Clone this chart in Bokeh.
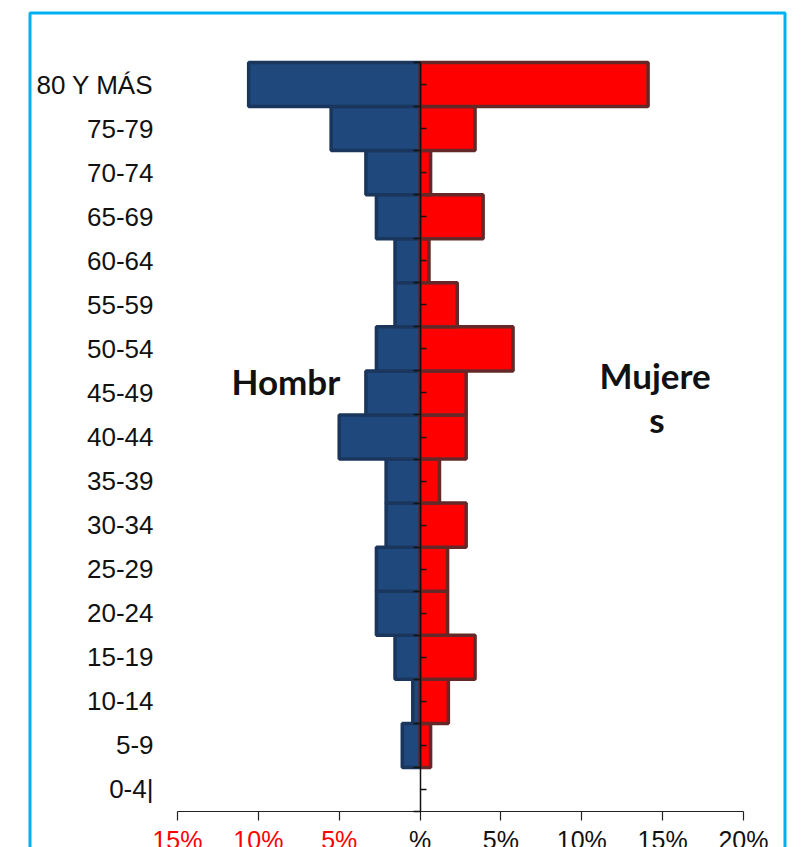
from bokeh.plotting import figure
from bokeh.models import LinearAxis, FixedTicker, Range1d, Label, BoxAnnotation
from bokeh.embed import file_html
from bokeh.resources import INLINE

# ---- data (bottom to top) ----
age_groups = ["0-4", "5-9", "10-14", "15-19", "20-24", "25-29", "30-34", "35-39",
              "40-44", "45-49", "50-54", "55-59", "60-64", "65-69", "70-74", "75-79",
              "80 Y MÁS"]
# the original shows the lowest category label as "0-4|"
age_tick_labels = ["0-4|"] + age_groups[1:]
hombres = [0.0, 1.1, 0.45, 1.55, 2.7, 2.7, 2.1, 2.1, 5.0, 3.35, 2.7, 1.55, 1.55,
           2.7, 3.35, 5.5, 10.6]
mujeres = [0.0, 0.65, 1.75, 3.4, 1.7, 1.7, 2.85, 1.2, 2.85, 2.85, 5.75, 2.3, 0.55,
           3.9, 0.65, 3.4, 14.1]
x_ticks = [-15, -10, -5, 0, 5, 10, 15, 20]
neg_tick_labels = {-15: "15%", -10: "10%", -5: "5%"}
pos_tick_labels = {0: "%", 5: "5%", 10: "10%", 15: "15%", 20: "20%"}
label_h = "Hombr"
label_m1 = "Mujere"
label_m2 = "s"

n = len(age_groups)
ypos = list(range(n))
X_MIN, X_MAX = -15, 20
Y_MIN, Y_MAX = -0.5, n - 0.5

# ---- layout (pixels) ----
W, H = 800, 847
PX_L, PX_R = 177, 743      # x = -15 .. 20
PX_T, PX_B = 62, 811       # y = 16.5 .. -0.5
sx = (X_MAX - X_MIN) / (PX_R - PX_L)
sy = (Y_MAX - Y_MIN) / (PX_B - PX_T)


def dx(px):
    return X_MIN + (px - PX_L) * sx


def dy(py):
    return Y_MAX - (py - PX_T) * sy


p = figure(width=W, height=H, output_backend="svg", toolbar_location=None,
           x_range=Range1d(dx(0), dx(W)), y_range=Range1d(dy(H), dy(0)),
           x_axis_location=None, y_axis_location=None,
           min_border=0)
p.grid.visible = False
p.outline_line_color = None
p.background_fill_color = "white"
p.border_fill_color = "white"

# bars (only non-empty ones get drawn)
h_y = [y for y, v in zip(ypos, hombres) if v > 0]
h_v = [-v for v in hombres if v > 0]
m_y = [y for y, v in zip(ypos, mujeres) if v > 0]
m_v = [v for v in mujeres if v > 0]
p.hbar(y=h_y, left=h_v, right=0, height=1.0,
       fill_color="#1F497D", line_color="#1B365C", line_width=3.5)
p.hbar(y=m_y, left=0, right=m_v, height=1.0,
       fill_color="#FF0000", line_color="#652828", line_width=3.5)

# category labels axis (at the left edge of the value range, no line/ticks)
lab_axis = LinearAxis(ticker=FixedTicker(ticks=ypos, minor_ticks=[]),
                      fixed_location=X_MIN, bounds=(Y_MIN, Y_MAX),
                      major_label_overrides={i: s for i, s in enumerate(age_tick_labels)})
lab_axis.axis_line_color = None
lab_axis.major_tick_line_color = None
lab_axis.minor_tick_line_color = None
lab_axis.major_tick_out = 0
lab_axis.major_tick_in = 0
lab_axis.major_label_standoff = 24
lab_axis.major_label_text_font = "Liberation Sans"
lab_axis.major_label_text_font_size = "26px"
lab_axis.major_label_text_color = "#111111"
p.add_layout(lab_axis, "left")

# zero axis (vertical line at x = 0)
zero_axis = LinearAxis(ticker=FixedTicker(ticks=ypos,
                                          minor_ticks=[i - 0.5 for i in range(n + 1)]),
                       fixed_location=0, bounds=(Y_MIN, Y_MAX),
                       major_label_overrides={i: "" for i in ypos})
zero_axis.axis_line_color = "#111111"
zero_axis.axis_line_width = 1.5
zero_axis.major_tick_in = 6
zero_axis.major_tick_out = 0
zero_axis.minor_tick_in = 0
zero_axis.minor_tick_out = 7
zero_axis.major_tick_line_color = "#111111"
zero_axis.minor_tick_line_color = "#111111"
zero_axis.major_tick_line_width = 1.5
zero_axis.minor_tick_line_width = 1.5
zero_axis.major_label_text_font_size = "0px"
zero_axis.major_label_standoff = 0
p.add_layout(zero_axis, "left")

# bottom axis (black labels for non-negative ticks)
bx = LinearAxis(ticker=FixedTicker(ticks=x_ticks, minor_ticks=[]),
                fixed_location=Y_MIN, bounds=(X_MIN, X_MAX),
                major_label_overrides={**{k: "" for k in neg_tick_labels},
                                       **pos_tick_labels})
bx.axis_line_color = "#222222"
bx.axis_line_width = 1.2
bx.major_tick_line_color = "#222222"
bx.major_tick_line_width = 1.2
bx.major_tick_in = 0
bx.major_tick_out = 9
bx.major_label_standoff = 5
bx.major_label_text_font = "Liberation Sans"
bx.major_label_text_font_size = "25px"
bx.major_label_text_color = "#111111"
p.add_layout(bx, "below")

# bottom axis (red labels for negative ticks)
bx2 = LinearAxis(ticker=FixedTicker(ticks=list(neg_tick_labels.keys()), minor_ticks=[]),
                 fixed_location=Y_MIN, bounds=(X_MIN, X_MAX),
                 major_label_overrides=neg_tick_labels)
bx2.axis_line_color = None
bx2.major_tick_line_color = None
bx2.major_tick_in = 0
bx2.major_tick_out = 9
bx2.major_label_standoff = 5
bx2.major_label_text_font = "Liberation Sans"
bx2.major_label_text_font_size = "25px"
bx2.major_label_text_color = "#FF0000"
p.add_layout(bx2, "below")

# series labels
p.add_layout(Label(x=dx(231), y=dy(380), text=label_h, text_font="Lato",
                   text_font_style="bold", text_font_size="35px",
                   text_baseline="alphabetic", text_align="left",
                   text_color="#111111"))
p.add_layout(Label(x=dx(599), y=dy(374), text=label_m1, text_font="Lato",
                   text_font_style="bold", text_font_size="35px",
                   text_baseline="alphabetic", text_align="left",
                   text_color="#111111"))
p.add_layout(Label(x=dx(656.5), y=dy(418), text=label_m2, text_font="Lato",
                   text_font_style="bold", text_font_size="35px",
                   text_baseline="alphabetic", text_align="center",
                   text_color="#111111"))

# light-blue chart-area frame
p.add_layout(BoxAnnotation(left=dx(29.5), right=dx(784.5), top=dy(12.5),
                           bottom=dy(H + 20),
                           fill_color=None, fill_alpha=0,
                           line_color="#00B0F0", line_alpha=1.0, line_width=3))

open("out.html", "w").write(file_html(p, INLINE))
